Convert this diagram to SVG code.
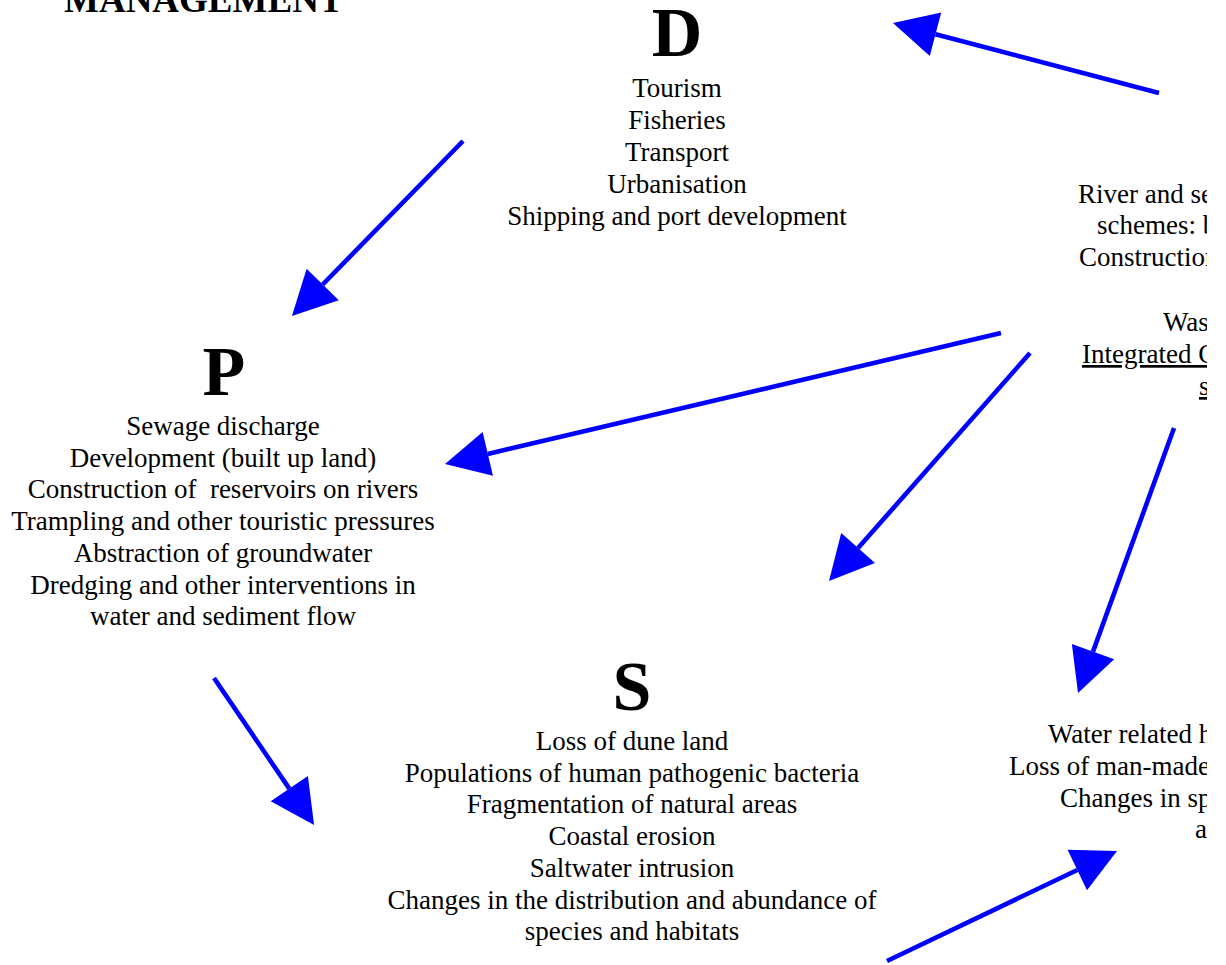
<svg xmlns="http://www.w3.org/2000/svg" width="1226" height="965" viewBox="0 0 1226 965">
<style>
text{font-family:"Liberation Serif","Times New Roman",serif;fill:#000;}
.b{font-size:27px;text-anchor:middle;white-space:pre;}
.r{font-size:27px;text-anchor:start;white-space:pre;}
.h{font-size:70px;font-weight:bold;text-anchor:middle;}
.t{font-size:37px;font-weight:bold;}
.u{text-decoration:underline;}
.c line{stroke:#0000ff;stroke-width:4.6;fill:none;marker-end:url(#ah);}
</style>
<defs>
<marker id="ah" markerUnits="userSpaceOnUse" markerWidth="46" markerHeight="48" viewBox="0 -24 46 48" refX="0" refY="0" orient="auto" overflow="visible">
<path d="M0,-22.5 L44,0 L0,22.5 Z" fill="#0000ff"/>
</marker>
<clipPath id="edge"><rect x="0" y="0" width="1207" height="965"/></clipPath>
</defs>
<rect width="1226" height="965" fill="#fff"/>
<g id="title"><text class="t" x="64" y="12">MANAGEMENT</text></g>
<g id="node-D">
<text class="h" x="677" y="56">D</text>
<text class="b" x="677" y="96.5">Tourism</text>
<text class="b" x="677" y="128.5">Fisheries</text>
<text class="b" x="677" y="160.5">Transport</text>
<text class="b" x="677" y="192.5">Urbanisation</text>
<text class="b" x="677" y="224.5">Shipping and port development</text>
</g>
<g id="node-P">
<text class="h" x="224" y="395">P</text>
<text class="b" x="223" y="435">Sewage discharge</text>
<text class="b" x="223" y="466.7">Development (built up land)</text>
<text class="b" x="223" y="498.4">Construction of  reservoirs on rivers</text>
<text class="b" x="223" y="530.1">Trampling and other touristic pressures</text>
<text class="b" x="223" y="561.8">Abstraction of groundwater</text>
<text class="b" x="223" y="593.5">Dredging and other interventions in</text>
<text class="b" x="223" y="625.2">water and sediment flow</text>
</g>
<g id="node-S">
<text class="h" x="632" y="710">S</text>
<text class="b" x="632" y="750">Loss of dune land</text>
<text class="b" x="632" y="781.7">Populations of human pathogenic bacteria</text>
<text class="b" x="632" y="813.4">Fragmentation of natural areas</text>
<text class="b" x="632" y="845.1">Coastal erosion</text>
<text class="b" x="632" y="876.8">Saltwater intrusion</text>
<text class="b" x="632" y="908.5">Changes in the distribution and abundance of</text>
<text class="b" x="632" y="940.2">species and habitats</text>
</g>
<g id="node-R" clip-path="url(#edge)">
<text class="r" x="1078" y="203">River and se</text>
<text class="r" x="1097" y="234">schemes: b</text>
<text class="r" x="1079" y="266">Construction</text>
<text class="r" x="1163" y="331">Was</text>
<text class="r u" x="1082" y="363">Integrated C</text>
<text class="r u" x="1199" y="395">s</text>
</g>
<g id="node-I" clip-path="url(#edge)">
<text class="r" x="1048" y="743">Water related h</text>
<text class="r" x="1009" y="775">Loss of man-made</text>
<text class="r" x="1060" y="807">Changes in sp</text>
<text class="r" x="1195" y="838">a</text>
</g>
<g id="connectors" class="c">
<line x1="1159" y1="93" x2="935.5" y2="34.2"/>
<line x1="463" y1="141" x2="322.7" y2="284.5"/>
<line x1="1001" y1="333" x2="487.8" y2="453.9"/>
<line x1="1030" y1="353" x2="858.1" y2="548"/>
<line x1="1174" y1="428" x2="1093" y2="651.6"/>
<line x1="214" y1="678" x2="289.3" y2="788.6"/>
<line x1="887" y1="961" x2="1077.3" y2="870"/>
</g>
</svg>
